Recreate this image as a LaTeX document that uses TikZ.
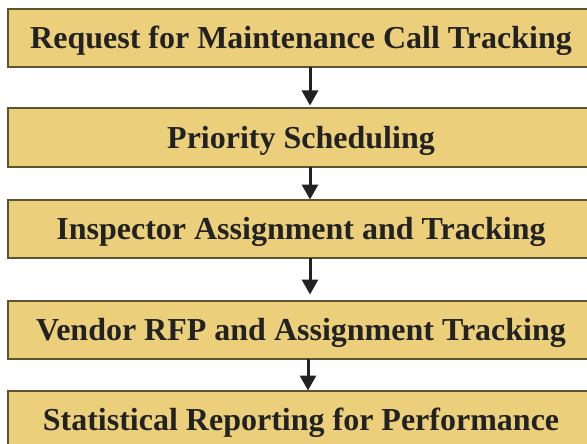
\documentclass[tikz,border=0pt]{standalone}
\usepackage{fontspec}
\setmainfont{Liberation Serif}
\usepackage{xcolor}
\usetikzlibrary{positioning, arrows.meta}

\definecolor{boxfill}{HTML}{EBCF7A}
\definecolor{boxline}{HTML}{5E5431}
\definecolor{inkdark}{HTML}{222222}

\begin{document}
\begin{tikzpicture}[
    font=\fontsize{32pt}{38pt}\selectfont\bfseries,
    stage/.style={
        rectangle,
        draw=boxline, line width=2pt,
        fill=boxfill, text=inkdark,
        minimum width=586pt, minimum height=58pt,
        text height=21pt, text depth=0pt,
        inner sep=0pt, outer sep=0pt, align=center
    },
    arrow/.style={-{Triangle[length=15pt, width=16pt]}, line width=3pt, draw=inkdark},
]
\clip (0,0) rectangle (587pt,-444pt);

% ---------- Stages ----------
\node[stage, anchor=north west] (request) at (8pt,-9.5pt) {Request for Maintenance Call Tracking};
\node[stage, below=41pt of request] (priority) {Priority Scheduling};
\node[stage, below=33pt of priority] (inspector) {Inspector Assignment and Tracking};
\node[stage, below=43pt of inspector] (vendor) {Vendor RFP and Assignment Tracking};
\node[stage, below=32pt of vendor] (report) {Statistical Reporting for Performance};

% ---------- Arrows ----------
\draw[arrow, shorten >=3pt] ([xshift=9pt]request.south) -- ([xshift=9pt]priority.north);
\draw[arrow] ([xshift=9pt]priority.south) -- ([xshift=9pt]inspector.north);
\draw[arrow, shorten >=6pt] ([xshift=9pt]inspector.south) -- ([xshift=9pt]vendor.north);
\draw[arrow] ([xshift=7pt]vendor.south) -- ([xshift=7pt]report.north);

\end{tikzpicture}
\end{document}
